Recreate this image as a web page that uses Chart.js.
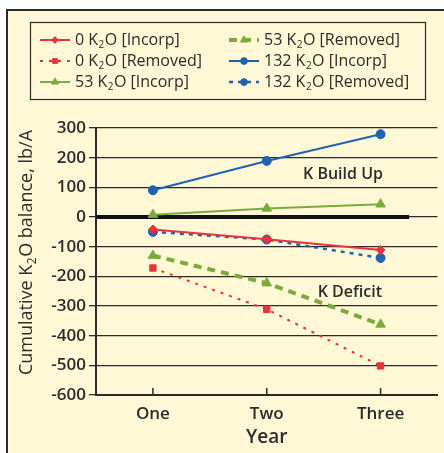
<!DOCTYPE html>
<html>
<head>
<meta charset="utf-8">
<script src="https://cdn.jsdelivr.net/npm/chart.js@4/dist/chart.umd.min.js"></script>
<style>
  html, body { margin: 0; padding: 0; background: #fff; }
  #wrap { width: 444px; height: 453px; }
</style>
</head>
<body>
<div id="wrap"><canvas id="canva"></canvas></div>
<script>
const years = ["One", "Two", "Three"];
const k0Incorp = [-42, -75, -111];
const k0Removed = [-172, -311, -502];
const k53Incorp = [8, 29, 43];
const k53Removed = [-130, -223, -362];
const k132Incorp = [90, 189, 279];
const k132Removed = [-50, -76, -138];
const yTicks = [300, 200, 100, 0, -100, -200, -300, -400, -500, -600];
const notes = [
  { text: "K Build Up", x: 1.67, y: 142 },
  { text: "K Deficit", x: 1.73, y: -253 },
];

const RED = "#e8323c", GREEN = "#7aab3c", BLUE = "#1f62b0";
const CREAM = "#fef8d6", INK = "#2b2b2b";
const FONT = "'Open Sans', 'Noto Sans', sans-serif";

// draws text, rendering "₂" as a small lowered 2
function subText(ctx, str, x, y, size, weight) {
  const parts = str.split("\u2082");
  ctx.textBaseline = "middle";
  ctx.textAlign = "left";
  let cx = x;
  parts.forEach((p, i) => {
    ctx.font = `${weight} ${size}px ${FONT}`;
    ctx.fillText(p, cx, y);
    cx += ctx.measureText(p).width;
    if (i < parts.length - 1) {
      ctx.font = `${weight} ${Math.round(size * 0.65)}px ${FONT}`;
      ctx.fillText("2", cx + 0.5, y + size * 0.3);
      cx += ctx.measureText("2").width + 1;
    }
  });
  return cx - x;
}
function subWidth(ctx, str, size, weight) {
  const parts = str.split("\u2082");
  let w = 0;
  parts.forEach((p, i) => {
    ctx.font = `${weight} ${size}px ${FONT}`;
    w += ctx.measureText(p).width;
    if (i < parts.length - 1) {
      ctx.font = `${weight} ${Math.round(size * 0.65)}px ${FONT}`;
      w += ctx.measureText("2").width + 1;
    }
  });
  return w;
}

const framePlugin = {
  id: "frame",
  beforeDraw(chart) {
    const ctx = chart.ctx;
    ctx.save();
    ctx.fillStyle = "#fff";
    ctx.fillRect(0, 0, chart.width, chart.height);
    ctx.fillStyle = CREAM;
    ctx.fillRect(7, 10, chart.width, chart.height);
    ctx.strokeStyle = INK;
    ctx.lineWidth = 2;
    ctx.beginPath();
    ctx.moveTo(7, chart.height + 2);
    ctx.lineTo(7, 10);
    ctx.lineTo(chart.width + 2, 10);
    ctx.stroke();
    // legend box
    ctx.lineWidth = 1.2;
    ctx.strokeRect(30.5, 22.5, 395, 77);
    ctx.restore();
  },
  beforeDatasetsDraw(chart) {
    const ctx = chart.ctx, xs = chart.scales.x, ys = chart.scales.y;
    const y0 = ys.getPixelForValue(0);
    ctx.save();
    ctx.strokeStyle = "#111";
    ctx.lineWidth = 4;
    ctx.beginPath();
    ctx.moveTo(chart.chartArea.left, y0);
    ctx.lineTo(xs.getPixelForValue(2.25), y0);
    ctx.stroke();
    // inward x ticks
    ctx.lineWidth = 1.5;
    ctx.strokeStyle = INK;
    years.forEach((_, i) => {
      const px = xs.getPixelForValue(i);
      ctx.beginPath();
      ctx.moveTo(px, chart.chartArea.bottom);
      ctx.lineTo(px, chart.chartArea.bottom - 7);
      ctx.stroke();
    });
    ctx.restore();
  },
  afterDraw(chart) {
    const ctx = chart.ctx, xs = chart.scales.x, ys = chart.scales.y;
    ctx.save();
    ctx.fillStyle = INK;
    // notes
    notes.forEach(n => {
      ctx.font = `600 16px ${FONT}`;
      ctx.textAlign = "center";
      ctx.textBaseline = "middle";
      ctx.fillText(n.text, xs.getPixelForValue(n.x), ys.getPixelForValue(n.y));
    });
    // y title
    const title = "Cumulative K\u2082O balance, lb/A";
    const tw = subWidth(ctx, title, 18, 500);
    ctx.save();
    ctx.translate(27, (chart.chartArea.top + chart.chartArea.bottom) / 2 - 9);
    ctx.rotate(-Math.PI / 2);
    subText(ctx, title, -tw / 2, 0, 18, 500);
    ctx.restore();
    // legend
    const cols = [40, 229], rows = [40, 61, 82];
    chart.data.datasets.forEach((ds, i) => {
      const col = Math.floor(i / 3), row = i % 3;
      const x = cols[col], y = rows[row];
      ctx.save();
      ctx.strokeStyle = ds.borderColor;
      ctx.lineWidth = ds.borderWidth;
      ctx.setLineDash(ds.borderDash || []);
      ctx.beginPath();
      ctx.moveTo(x, y);
      ctx.lineTo(x + 30, y);
      ctx.stroke();
      ctx.setLineDash([]);
      ctx.fillStyle = ds.borderColor;
      ctx.lineWidth = 1;
      Chart.helpers.drawPoint(ctx, {
        pointStyle: ds.pointStyle, radius: ds.pointRadius * 0.75,
        borderWidth: 1, rotation: 0
      }, x + 15, y);
      ctx.restore();
      ctx.fillStyle = INK;
      subText(ctx, ds.label, x + 35, y, 16, 500);
    });
    ctx.restore();
  }
};

function series(label, data, color, width, dash, style, radius) {
  return {
    label, data,
    borderColor: color, backgroundColor: color,
    pointBackgroundColor: color, pointBorderColor: color, pointBorderWidth: 1,
    borderWidth: width, borderDash: dash,
    pointStyle: style, pointRadius: radius, pointHoverRadius: radius,
    tension: 0, fill: false,
  };
}

new Chart(document.getElementById("canva").getContext("2d"), {
  type: "line",
  data: {
    labels: years,
    datasets: [
      series("0 K\u2082O [Incorp]", k0Incorp, RED, 2, [], "rectRot", 4.5),
      series("0 K\u2082O [Removed]", k0Removed, RED, 2, [3, 6], "rect", 4.5),
      series("53 K\u2082O [Incorp]", k53Incorp, GREEN, 2, [], "triangle", 5.5),
      series("53 K\u2082O [Removed]", k53Removed, GREEN, 4, [8, 6], "triangle", 5.5),
      series("132 K\u2082O [Incorp]", k132Incorp, BLUE, 2, [], "circle", 4.5),
      series("132 K\u2082O [Removed]", k132Removed, BLUE, 2.5, [4, 5], "circle", 4.5),
    ],
  },
  options: {
    responsive: true,
    maintainAspectRatio: false,
    animation: false,
    layout: { padding: { top: 128, left: 8, right: 3, bottom: 0 } },
    plugins: { legend: { display: false }, tooltip: { enabled: false } },
    scales: {
      x: {
        offset: true,
        afterFit(s) { s.height = 58; },
        grid: { display: false, drawOnChartArea: false },
        border: { display: true, color: INK, width: 2 },
        ticks: { color: INK, padding: 1, font: { family: FONT, size: 17, weight: 600 } },
        title: {
          display: true, text: "Year", color: INK, padding: { top: 0 },
          font: { family: FONT, size: 19, weight: 600 },
        },
      },
      y: {
        min: -600, max: 300,
        afterFit(s) { s.width = 88; },
        afterBuildTicks(s) { s.ticks = yTicks.map(v => ({ value: v })); },
        grid: { color: INK, lineWidth: 1.3, tickLength: 7, tickColor: INK },
        border: { display: true, color: INK, width: 2 },
        ticks: { color: INK, padding: 3, font: { family: FONT, size: 17, weight: 600 } },
      },
    },
  },
  plugins: [framePlugin],
});
</script>
</body>
</html>
